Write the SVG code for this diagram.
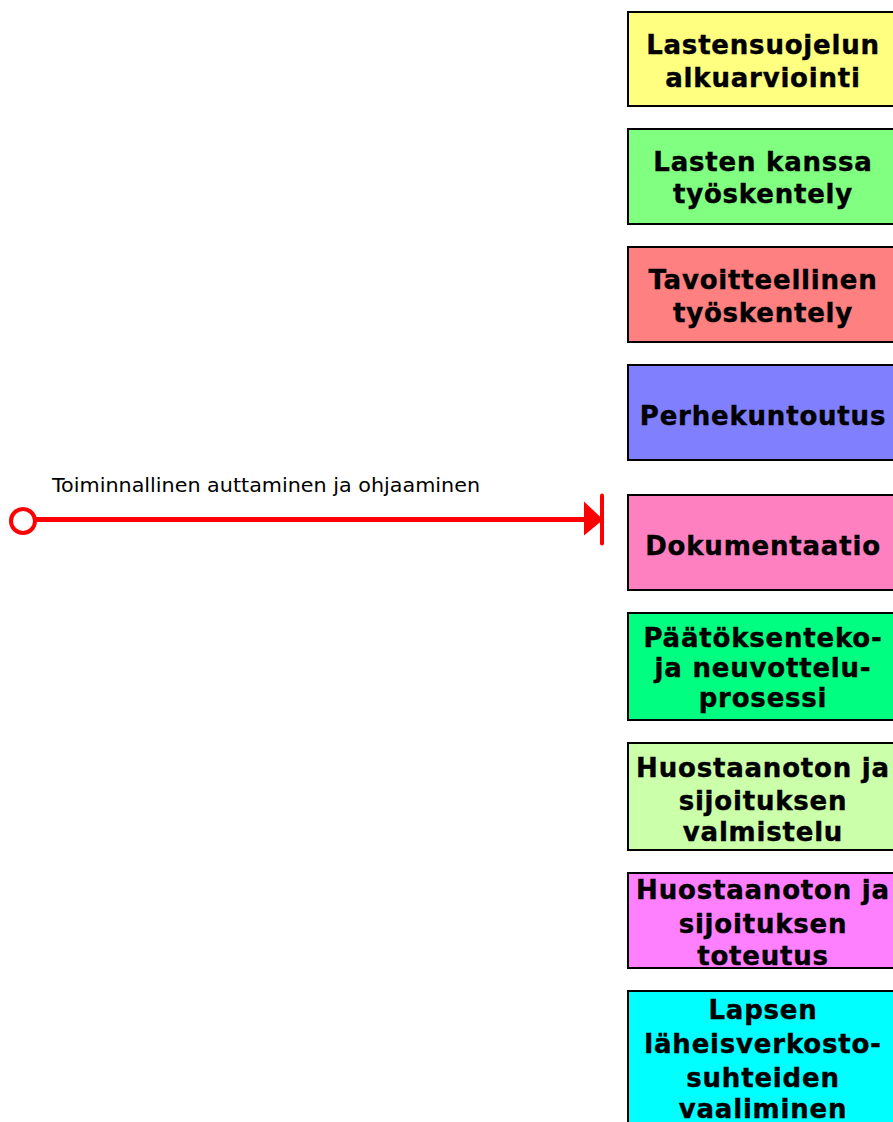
<svg xmlns="http://www.w3.org/2000/svg" width="893" height="1122" viewBox="0 0 893 1122">
<style>
.box{stroke:#000;stroke-width:2}
.t{font-family:"DejaVu Sans",Verdana,sans-serif;font-weight:bold;font-size:26px;letter-spacing:0.8px;text-anchor:middle;fill:#000;stroke:#000;stroke-width:0.4px}
.lbl{font-family:"DejaVu Sans",Tahoma,sans-serif;font-size:20px;fill:#000}
.red{stroke:#ff0000;fill:none}
</style>
<defs>
<marker id="endbar" markerUnits="userSpaceOnUse" markerWidth="24" markerHeight="54" refX="18" refY="27" orient="auto" viewBox="0 0 24 54">
<path d="M1,9 L18,25 L18,29 L1,43 Z" fill="#ff0000"/>
<line x1="19" y1="3" x2="19" y2="51" stroke="#ff0000" stroke-width="4" stroke-linecap="round"/>
</marker>
</defs>
<g id="connectors">
<line class="red" x1="35" y1="519.5" x2="601" y2="519.5" stroke-width="5" marker-end="url(#endbar)"/>
<circle class="red" cx="23" cy="521" r="12" stroke-width="4"/>
<text class="lbl" x="52" y="492" textLength="428" lengthAdjust="spacingAndGlyphs">Toiminnallinen auttaminen ja ohjaaminen</text>
</g>
<g id="n1"><rect class="box" x="628" y="12" width="270" height="94" fill="#ffff80"/>
<text class="t" x="763" y="54">Lastensuojelun</text><text class="t" x="763" y="87">alkuarviointi</text></g>
<g id="n2"><rect class="box" x="628" y="129" width="270" height="95" fill="#80ff80"/>
<text class="t" x="763" y="171">Lasten kanssa</text><text class="t" x="763" y="203">työskentely</text></g>
<g id="n3"><rect class="box" x="628" y="247" width="270" height="95" fill="#ff8080"/>
<text class="t" x="763" y="289">Tavoitteellinen</text><text class="t" x="763" y="322">työskentely</text></g>
<g id="n4"><rect class="box" x="628" y="365" width="270" height="95" fill="#8080ff"/>
<text class="t" x="763" y="425">Perhekuntoutus</text></g>
<g id="n5"><rect class="box" x="628" y="495" width="270" height="95" fill="#ff80c0"/>
<text class="t" x="763" y="555">Dokumentaatio</text></g>
<g id="n6"><rect class="box" x="628" y="613" width="270" height="107" fill="#00ff80"/>
<text class="t" x="763" y="647">Päätöksenteko-</text><text class="t" x="763" y="677">ja neuvottelu-</text><text class="t" x="763" y="707">prosessi</text></g>
<g id="n7"><rect class="box" x="628" y="743" width="270" height="107" fill="#ccffaa"/>
<text class="t" x="763" y="777">Huostaanoton ja</text><text class="t" x="763" y="810">sijoituksen</text><text class="t" x="763" y="841">valmistelu</text></g>
<g id="n8"><rect class="box" x="628" y="873" width="270" height="95" fill="#ff80ff"/>
<text class="t" x="763" y="899">Huostaanoton ja</text><text class="t" x="763" y="933">sijoituksen</text><text class="t" x="763" y="965">toteutus</text></g>
<g id="n9"><rect class="box" x="628" y="991" width="270" height="140" fill="#00ffff"/>
<text class="t" x="763" y="1019">Lapsen</text><text class="t" x="763" y="1053">läheisverkosto-</text><text class="t" x="763" y="1087">suhteiden</text><text class="t" x="763" y="1118">vaaliminen</text></g>
</svg>
